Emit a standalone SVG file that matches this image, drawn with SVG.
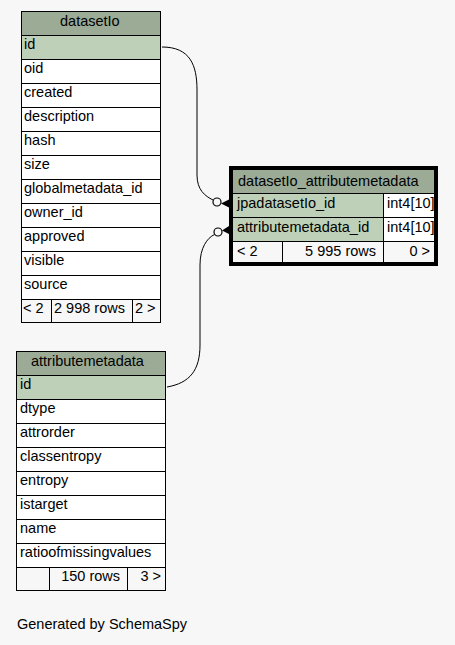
<svg xmlns="http://www.w3.org/2000/svg" width="455" height="645" viewBox="0 0 455 645">
  <style>
    text { font-family: "Liberation Sans", Arial, Helvetica, sans-serif; font-size: 14.5px; fill: #000; }
    .hdr { fill: #9bab96; }
    .key { fill: #bed1b8; }
    .row { fill: #ffffff; }
    .foot { fill: #f7f7f7; }
    .grid { fill: none; stroke: #000; stroke-width: 1; }
    .edge { fill: none; stroke: #000; stroke-width: 1; }
    .dot { fill: #f7f7f7; stroke: #000; stroke-width: 1.2; }
    .end { fill: #000; }
    .r { text-anchor: end; }
  </style>

  <rect x="0" y="0" width="455" height="645" fill="#f7f7f7"/>

  <!-- relationships -->
  <g id="connectors">
    <path class="edge" d="M162,47 C190,47 197,65 197,90 L197,175 C197,190 205,196 213,200"/>
    <circle class="dot" cx="217" cy="202" r="4"/>
    <polygon class="end" points="221,203.5 229,199.5 229,207.5"/>

    <path class="edge" d="M167,387 C190,383 200,370 200,345 L200,265 C200,248 207,238 214.5,234.5"/>
    <circle class="dot" cx="218" cy="232" r="4"/>
    <polygon class="end" points="222,230.5 229,226 229,234"/>
  </g>

  <!-- datasetIo -->
  <g id="datasetIo">
    <rect class="hdr" x="21" y="11" width="140" height="24"/>
    <rect class="key" x="21" y="35" width="140" height="24"/>
    <rect class="row" x="21" y="59" width="140" height="240"/>
    <rect class="foot" x="21" y="299" width="140" height="24"/>
    <rect class="grid" x="21.5" y="11.5" width="139" height="311"/>
    <path class="grid" d="M21,35.5H161M21,59.5H161M21,83.5H161M21,107.5H161M21,131.5H161M21,155.5H161M21,179.5H161M21,203.5H161M21,227.5H161M21,251.5H161M21,275.5H161M21,299.5H161M51.5,299V323M132.5,299V323"/>
    <text x="60" y="26">datasetIo</text>
    <text x="24" y="49">id</text>
    <text x="24" y="73">oid</text>
    <text x="24" y="97">created</text>
    <text x="24" y="121">description</text>
    <text x="24" y="145">hash</text>
    <text x="24" y="169">size</text>
    <text x="24" y="193">globalmetadata_id</text>
    <text x="24" y="217">owner_id</text>
    <text x="24" y="241">approved</text>
    <text x="24" y="265">visible</text>
    <text x="24" y="289">source</text>
    <text x="23" y="313">&lt; 2</text>
    <text x="54" y="313">2 998 rows</text>
    <text x="135" y="313">2 &gt;</text>
  </g>

  <!-- datasetIo_attributemetadata -->
  <g id="datasetIo_attributemetadata">
    <rect x="229" y="166" width="209" height="100" fill="#000"/>
    <rect class="hdr" x="233" y="170" width="201" height="23"/>
    <rect class="key" x="233" y="193" width="150" height="48"/>
    <rect class="row" x="383" y="193" width="51" height="48"/>
    <rect class="foot" x="233" y="241" width="201" height="21"/>
    <path class="grid" d="M233,193.5H434M233,217.5H434M233,241.5H434M383.5,193V241M282.5,241V262M383.5,241V262"/>
    <text x="238" y="186">datasetIo_attributemetadata</text>
    <text x="237" y="208">jpadatasetIo_id</text>
    <text x="387" y="208">int4[10]</text>
    <text x="237" y="232">attributemetadata_id</text>
    <text x="387" y="232">int4[10]</text>
    <text x="237" y="256">&lt; 2</text>
    <text class="r" x="376" y="256">5 995 rows</text>
    <text class="r" x="430" y="256">0 &gt;</text>
  </g>

  <!-- attributemetadata -->
  <g id="attributemetadata">
    <rect class="hdr" x="16" y="351" width="150" height="24"/>
    <rect class="key" x="16" y="375" width="150" height="24"/>
    <rect class="row" x="16" y="399" width="150" height="168"/>
    <rect class="foot" x="16" y="567" width="150" height="24"/>
    <rect class="grid" x="16.5" y="351.5" width="149" height="239"/>
    <path class="grid" d="M16,375.5H166M16,399.5H166M16,423.5H166M16,447.5H166M16,471.5H166M16,495.5H166M16,519.5H166M16,543.5H166M16,567.5H166M49.5,567V591M127.5,567V591"/>
    <text x="31" y="366">attributemetadata</text>
    <text x="20" y="389">id</text>
    <text x="20" y="413">dtype</text>
    <text x="20" y="437">attrorder</text>
    <text x="20" y="461">classentropy</text>
    <text x="20" y="485">entropy</text>
    <text x="20" y="509">istarget</text>
    <text x="20" y="533">name</text>
    <text x="20" y="557">ratioofmissingvalues</text>
    <text class="r" x="120" y="581">150 rows</text>
    <text class="r" x="161" y="581">3 &gt;</text>
  </g>

  <text x="17" y="629">Generated by SchemaSpy</text>
</svg>
